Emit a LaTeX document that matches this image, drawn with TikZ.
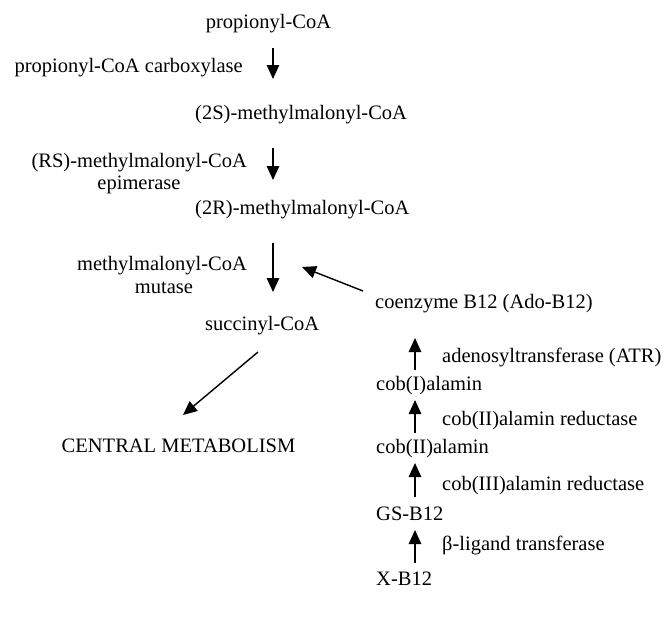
\documentclass[tikz,border=0pt]{standalone}
\usepackage{fontspec}
\setmainfont{Liberation Serif}
\usetikzlibrary{arrows.meta}
\begin{document}
\begin{tikzpicture}[x=1pt,y=-1pt,
  lbl/.style={inner sep=0pt,font=\fontsize{20.5}{24}\selectfont},
  arr/.style={line width=1.4pt,-{Triangle[length=14pt,width=12.5pt]}}]
\useasboundingbox[fill=white] (0,0) rectangle (665,621);
% main pathway
\node[lbl,anchor=base] (prop) at (268.5,28) {propionyl-CoA};
\node[lbl,anchor=base east] (pcc) at (243,72) {propionyl-CoA carboxylase};
\node[lbl,anchor=base west] (s2) at (195,119) {(2S)-methylmalonyl-CoA};
\node[lbl,anchor=base east] (rs1) at (247,167) {(RS)-methylmalonyl-CoA};
\node[lbl,anchor=base] (rs2) at (139,189) {epimerase};
\node[lbl,anchor=base west] (r2) at (195,214) {(2R)-methylmalonyl-CoA};
\node[lbl,anchor=base east] (mm1) at (247,270) {methylmalonyl-CoA};
\node[lbl,anchor=base] (mm2) at (164,293) {mutase};
\node[lbl,anchor=base west] (succ) at (205,330) {succinyl-CoA};
\node[lbl,anchor=base] (cent) at (178.5,452) {CENTRAL METABOLISM};
% B12 branch
\node[lbl,anchor=base west] (coenz) at (375,308) {coenzyme B12 (Ado-B12)};
\node[lbl,anchor=base west] (atr) at (442,362) {adenosyltransferase (ATR)};
\node[lbl,anchor=base west] (cobI) at (376,390) {cob(I)alamin};
\node[lbl,anchor=base west] (red2) at (442,425) {cob(II)alamin reductase};
\node[lbl,anchor=base west] (cobII) at (376,453) {cob(II)alamin};
\node[lbl,anchor=base west] (red3) at (442,490) {cob(III)alamin reductase};
\node[lbl,anchor=base west] (gs) at (376,520) {GS-B12};
\node[lbl,anchor=base west] (blt) at (442,550) {β-ligand transferase};
\node[lbl,anchor=base west] (xb) at (376,585) {X-B12};
% arrow end points
\coordinate (a1s) at (273,48);  \coordinate (a1e) at (273,79);
\coordinate (a2s) at (273,148); \coordinate (a2e) at (273,180);
\coordinate (a3s) at (273,243); \coordinate (a3e) at (273,292);
\coordinate (c1s) at (363,291); \coordinate (c1e) at (302,267);
\coordinate (d1s) at (258,352); \coordinate (d1e) at (183,415);
\coordinate (u1s) at (415,370); \coordinate (u1e) at (415,338);
\coordinate (u2s) at (415,433); \coordinate (u2e) at (415,400);
\coordinate (u3s) at (415,497); \coordinate (u3e) at (415,463);
\coordinate (u4s) at (415,563); \coordinate (u4e) at (415,530);
\draw[arr] (a1s) -- (a1e);
\draw[arr] (a2s) -- (a2e);
\draw[arr] (a3s) -- (a3e);
\draw[arr] (c1s) -- (c1e);
\draw[arr] (d1s) -- (d1e);
\draw[arr] (u1s) -- (u1e);
\draw[arr] (u2s) -- (u2e);
\draw[arr] (u3s) -- (u3e);
\draw[arr] (u4s) -- (u4e);
\end{tikzpicture}
\end{document}
